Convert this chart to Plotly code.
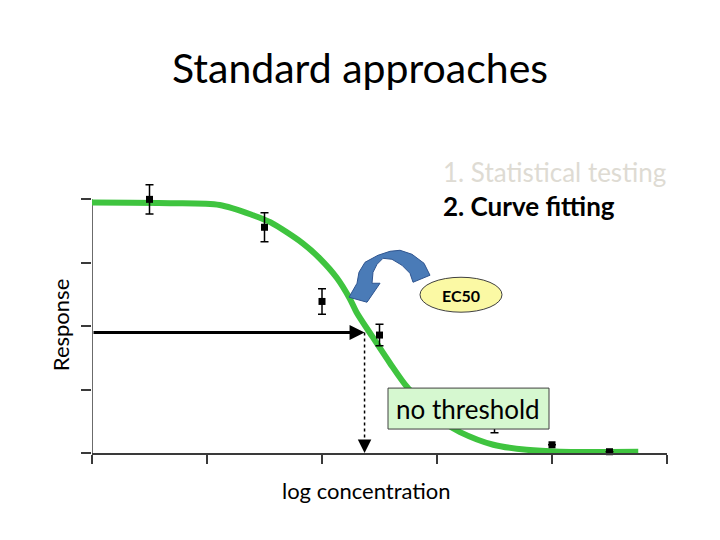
import plotly.graph_objects as go

# ---- data ----
conc = [0.5, 1.5, 2.0, 2.5, 3.5, 4.0, 4.5]
resp = [4.0, 3.56, 2.39, 1.86, 0.5, 0.13, 0.02]
resp_err = [0.23, 0.23, 0.20, 0.17, 0.18, 0.0, 0.0]

fit_x = [0.0, 0.68, 1.11, 1.40, 1.55, 1.83, 1.98, 2.13, 2.24, 2.30, 2.44, 2.59,
         2.74, 2.94, 3.07, 3.20, 3.49, 3.78, 4.07, 4.75]
fit_y = [3.95, 3.94, 3.91, 3.75, 3.64, 3.31, 3.07, 2.76, 2.44, 2.22, 1.83, 1.42,
         1.04, 0.68, 0.47, 0.33, 0.13, 0.05, 0.02, 0.02]

ec50_x = 2.37
ec50_y = 1.9

x_ticks = [0, 1, 2, 3, 4, 5]
y_ticks = [0, 1, 2, 3, 4]

FONT = "Lato, 'Open Sans', sans-serif"
OFF = 8                      # page body margin
W, H = 720 - OFF, 540 - OFF
Y_TOP = 4.4                  # headroom so the top error bar is not clipped
UNIT_Y = 63.5                # pixels per y unit
L, R, B = 92 - OFF, 53, 87
T = 453 - Y_TOP * UNIT_Y - OFF


def px(xp, yp):
    """screen pixel position -> paper coordinates"""
    xp -= OFF
    yp -= OFF
    return (xp - L) / (W - L - R), (H - B - yp) / (H - T - B)


fig = go.Figure()

fig.add_trace(go.Scatter(
    x=fit_x, y=fit_y, mode="lines",
    line=dict(color="#3fc43f", width=6, shape="spline", smoothing=0.8),
    cliponaxis=False, showlegend=False,
))
fig.add_trace(go.Scatter(
    x=conc, y=resp, mode="markers",
    marker=dict(symbol="square", size=7, color="black"),
    error_y=dict(type="data", array=resp_err, color="black", thickness=1.5, width=4),
    cliponaxis=False, showlegend=False,
))

shapes = []
# y axis line only up to the top tick
shapes.append(dict(type="line", xref="x", yref="y", x0=0, y0=0, x1=0, y1=y_ticks[-1],
                   line=dict(color="#3a3a3a", width=1.5), layer="below"))
# dotted drop line from EC50
shapes.append(dict(type="line", xref="x", yref="y", x0=ec50_x, y0=ec50_y, x1=ec50_x, y1=0.12,
                   line=dict(color="black", width=1.5, dash="dot"), layer="above"))

# blue curved arrow
arrow_px = [(430, 275), (424, 263), (412, 254), (400, 250), (390, 251), (378, 255), (365, 262),
            (359, 272), (357, 283), (349, 297), (367, 302), (380, 283), (372, 283), (373, 272),
            (377, 264), (383, 258), (392, 259), (402, 265), (410, 273), (413, 282)]
pts = [px(a, b) for a, b in arrow_px]
path = "M " + " L ".join(f"{a:.4f},{b:.4f}" for a, b in pts) + " Z"
shapes.append(dict(type="path", xref="paper", yref="paper", path=path,
                   fillcolor="#4a7bb7", line=dict(color="#2f5590", width=1), layer="above"))

# EC50 ellipse
x0, y0 = px(420, 312)
x1, y1 = px(502, 277)
shapes.append(dict(type="circle", xref="paper", yref="paper", x0=x0, y0=y0, x1=x1, y1=y1,
                   fillcolor="#fbf9a4", line=dict(color="#404040", width=1), layer="above"))

# no threshold box
x0, y0 = px(388, 429)
x1, y1 = px(549, 388)
shapes.append(dict(type="rect", xref="paper", yref="paper", x0=x0, y0=y0, x1=x1, y1=y1,
                   fillcolor="#d6f8d0", line=dict(color="#404040", width=1), layer="above"))

annotations = []


def text(s, xp, yp, size, color="black", xanchor="center", bold=False, angle=0):
    xa, ya = px(xp, yp)
    annotations.append(dict(
        text=f"<b>{s}</b>" if bold else s, x=xa, y=ya, xref="paper", yref="paper",
        xanchor=xanchor, yanchor="middle", showarrow=False, textangle=angle,
        font=dict(family=FONT, size=size, color=color)))


text("Standard approaches", 360, 67, 41)
text("1. Statistical testing", 441, 172, 26, color="#dedbd3", xanchor="left")
text("2. Curve fitting", 441, 206, 26, xanchor="left", bold=True)
text("Response", 60, 325, 22, angle=-90)
text("log concentration", 366, 491, 22)
text("EC50", 461, 295, 16, bold=True)
text("no threshold", 468, 409, 26)

# horizontal arrow to the curve
annotations.append(dict(x=ec50_x, y=ec50_y, ax=0, ay=ec50_y, xref="x", yref="y",
                        axref="x", ayref="y", text="", showarrow=True,
                        arrowhead=2, arrowsize=1, arrowwidth=3, arrowcolor="black", standoff=0))
# arrowhead at bottom of dotted line
annotations.append(dict(x=ec50_x, y=0, ax=0, ay=-14, xref="x", yref="y", text="",
                        showarrow=True, arrowhead=2, arrowsize=1.8, arrowwidth=1.5,
                        arrowcolor="black", standoff=0))

fig.update_layout(
    width=W, height=H,
    margin=dict(l=L, r=R, t=T, b=B, pad=0),
    paper_bgcolor="white", plot_bgcolor="white",
    shapes=shapes, annotations=annotations,
    font=dict(family=FONT),
    xaxis=dict(range=[0, 5], tickvals=x_ticks, ticktext=[""] * len(x_ticks),
               showgrid=False, zeroline=False, showline=True, linecolor="#3a3a3a",
               linewidth=1.5, ticks="outside", ticklen=9, tickwidth=1.5, tickcolor="#3a3a3a"),
    yaxis=dict(range=[0, Y_TOP], tickvals=y_ticks, ticktext=[""] * len(y_ticks),
               showgrid=False, zeroline=False, showline=False,
               ticks="outside", ticklen=10, tickwidth=1.5, tickcolor="#3a3a3a"),
)

fig.write_html("out.html")
